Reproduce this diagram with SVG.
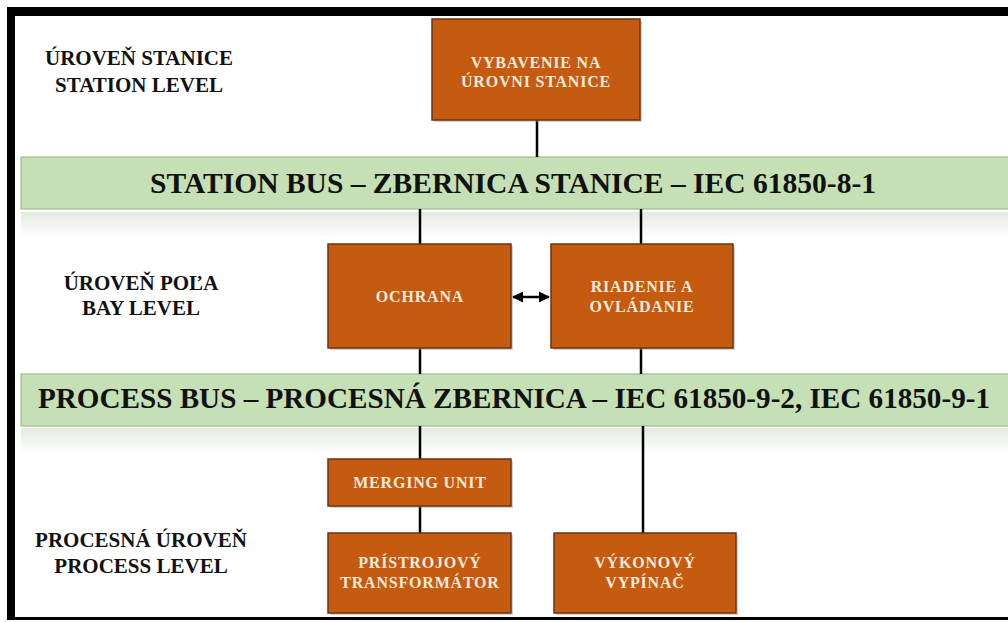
<svg xmlns="http://www.w3.org/2000/svg" width="1008" height="622" viewBox="0 0 1008 622">
  <defs>
    <style>
      .box { fill: #C55A11; stroke: #6e3310; stroke-width: 1.5; }
      .shadow { fill: #9a9a9a; opacity: 0.45; }
      .btxt { font-family: "Liberation Serif", "DejaVu Serif", serif; font-weight: bold; fill: #F6EAD8; text-anchor: middle; letter-spacing: 0.8px; }
      .lbl { font-family: "Liberation Serif", "DejaVu Serif", serif; font-weight: bold; font-size: 21px; fill: #111; text-anchor: middle; }
      .bus { fill: #C5E0B4; stroke: #9dbb8c; stroke-width: 1.2; }
      .bustxt { font-family: "Liberation Serif", "DejaVu Serif", serif; font-weight: bold; fill: #111; text-anchor: middle; }
      .conn { stroke: #000; stroke-width: 2.5; fill: none; }
    </style>
    <linearGradient id="refl" x1="0" y1="0" x2="0" y2="1">
      <stop offset="0" stop-color="#e3ebdf"/>
      <stop offset="1" stop-color="#ffffff"/>
    </linearGradient>
    <marker id="ah" viewBox="0 0 10 10" refX="9" refY="5" markerWidth="4.5" markerHeight="4.5" orient="auto-start-reverse">
      <path d="M0,0 L10,5 L0,10 z" fill="#000"/>
    </marker>
  </defs>

  <rect x="0" y="0" width="1008" height="622" fill="#ffffff"/>

  <!-- frame -->
  <g id="frame">
    <rect x="7" y="7" width="1001" height="9" fill="#000"/>
    <rect x="7" y="7" width="8" height="613" fill="#000"/>
    <rect x="7" y="617" width="1001" height="3" fill="#000"/>
  </g>

  <!-- buses -->
  <g id="station-bus">
    <rect x="21" y="212" width="990" height="26" fill="url(#refl)"/>
    <rect x="21" y="157" width="990" height="52" class="bus"/>
    <text x="513" y="193" class="bustxt" font-size="29" textLength="726" lengthAdjust="spacingAndGlyphs">STATION BUS – ZBERNICA STANICE – IEC 61850-8-1</text>
  </g>
  <g id="process-bus">
    <rect x="21" y="428" width="990" height="26" fill="url(#refl)"/>
    <rect x="21" y="374" width="990" height="52" class="bus"/>
    <text x="514" y="408" class="bustxt" font-size="29" textLength="952" lengthAdjust="spacingAndGlyphs">PROCESS BUS – PROCESNÁ ZBERNICA – IEC 61850-9-2, IEC 61850-9-1</text>
  </g>

  <!-- connectors -->
  <g id="connectors">
    <line class="conn" x1="537" y1="120" x2="537" y2="157"/>
    <line class="conn" x1="420" y1="209" x2="420" y2="244"/>
    <line class="conn" x1="641" y1="209" x2="641" y2="244"/>
    <line class="conn" x1="420" y1="348" x2="420" y2="374"/>
    <line class="conn" x1="641" y1="348" x2="641" y2="374"/>
    <line class="conn" x1="420" y1="426" x2="420" y2="459"/>
    <line class="conn" x1="643" y1="426" x2="643" y2="533"/>
    <line class="conn" x1="420" y1="506" x2="420" y2="533"/>
    <line class="conn" x1="513" y1="297" x2="549" y2="297" marker-start="url(#ah)" marker-end="url(#ah)"/>
  </g>

  <!-- level labels -->
  <g id="label-station">
    <text x="139" y="65" class="lbl">ÚROVEŇ STANICE</text>
    <text x="139" y="92" class="lbl">STATION LEVEL</text>
  </g>
  <g id="label-bay">
    <text x="141" y="290" class="lbl">ÚROVEŇ POĽA</text>
    <text x="141" y="315" class="lbl">BAY LEVEL</text>
  </g>
  <g id="label-process">
    <text x="141" y="547" class="lbl">PROCESNÁ ÚROVEŇ</text>
    <text x="141" y="573" class="lbl">PROCESS LEVEL</text>
  </g>

  <!-- nodes -->
  <g id="node-vybavenie">
    <rect x="434" y="21" width="208" height="101" class="shadow"/>
    <rect x="432" y="19" width="208" height="101" class="box"/>
    <text x="536" y="68" class="btxt" font-size="16">VYBAVENIE NA</text>
    <text x="536" y="87" class="btxt" font-size="16">ÚROVNI STANICE</text>
  </g>
  <g id="node-ochrana">
    <rect x="330" y="246" width="183" height="104" class="shadow"/>
    <rect x="328" y="244" width="183" height="104" class="box"/>
    <text x="420" y="302" class="btxt" font-size="16">OCHRANA</text>
  </g>
  <g id="node-riadenie">
    <rect x="553" y="246" width="182" height="104" class="shadow"/>
    <rect x="551" y="244" width="182" height="104" class="box"/>
    <text x="642" y="292" class="btxt" font-size="16">RIADENIE A</text>
    <text x="642" y="312" class="btxt" font-size="16">OVLÁDANIE</text>
  </g>
  <g id="node-merging">
    <rect x="330" y="461" width="183" height="47" class="shadow"/>
    <rect x="328" y="459" width="183" height="47" class="box"/>
    <text x="420" y="488" class="btxt" font-size="16">MERGING UNIT</text>
  </g>
  <g id="node-transformator">
    <rect x="330" y="535" width="183" height="80" class="shadow"/>
    <rect x="328" y="533" width="183" height="80" class="box"/>
    <text x="420" y="568" class="btxt" font-size="16">PRÍSTROJOVÝ</text>
    <text x="420" y="588" class="btxt" font-size="16">TRANSFORMÁTOR</text>
  </g>
  <g id="node-vypinac">
    <rect x="556" y="535" width="182" height="80" class="shadow"/>
    <rect x="554" y="533" width="182" height="80" class="box"/>
    <text x="645" y="568" class="btxt" font-size="16">VÝKONOVÝ</text>
    <text x="645" y="588" class="btxt" font-size="16">VYPÍNAČ</text>
  </g>
</svg>
